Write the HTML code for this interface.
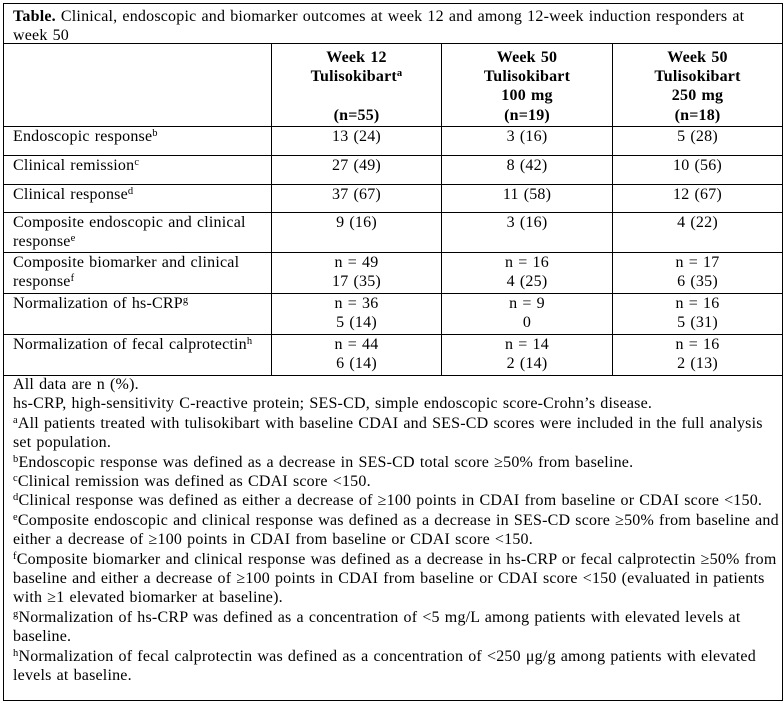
<!DOCTYPE html>
<html>
<head>
<meta charset="utf-8">
<style>
  html, body { margin:0; padding:0; background:#fff; }
  body { width:784px; height:703px; position:relative; overflow:hidden; }
  .h { position:absolute; height:1px; background:#000; }
  .v { position:absolute; width:1px; background:#000; }
  .t { position:absolute; white-space:nowrap; font-family:"Liberation Serif", "Times New Roman", serif; font-size:16px; line-height:19.4px; color:#000; letter-spacing:0.2px; word-spacing:0.85px; }
  .c { text-align:center; }
  .b { font-weight:bold; }
  .s { font-size:10.5px; position:relative; top:-5px; line-height:0; vertical-align:baseline; }
</style>
</head>
<body>
<!-- outer border -->
<div class="h" style="left:3px;top:3px;width:780px;"></div>
<div class="h" style="left:3px;top:700px;width:780px;"></div>
<div class="v" style="left:3px;top:3px;height:698px;"></div>
<div class="v" style="left:782px;top:3px;height:698px;"></div>
<!-- horizontal rules -->
<div class="h" style="left:3px;top:43px;width:780px;"></div>
<div class="h" style="left:3px;top:126px;width:780px;"></div>
<div class="h" style="left:3px;top:155px;width:780px;"></div>
<div class="h" style="left:3px;top:184px;width:780px;"></div>
<div class="h" style="left:3px;top:212px;width:780px;"></div>
<div class="h" style="left:3px;top:252px;width:780px;"></div>
<div class="h" style="left:3px;top:293px;width:780px;"></div>
<div class="h" style="left:3px;top:334px;width:780px;"></div>
<div class="h" style="left:3px;top:375px;width:780px;"></div>
<!-- vertical rules -->
<div class="v" style="left:271px;top:43px;height:333px;"></div>
<div class="v" style="left:441px;top:43px;height:333px;"></div>
<div class="v" style="left:612px;top:43px;height:333px;"></div>

<!-- title -->
<div class="t" style="left:13px;top:7px;line-height:19px;"><span class="b">Table.</span> Clinical, endoscopic and biomarker outcomes at week 12 and among 12-week induction responders at<br>week 50</div>

<!-- header -->
<div class="t c b" style="left:272px;width:169px;top:48px;line-height:19.2px;">Week 12<br>Tulisokibart<span class="s">a</span><br>&nbsp;<br>(n=55)</div>
<div class="t c b" style="left:442px;width:170px;top:48px;line-height:19.2px;">Week 50<br>Tulisokibart<br>100 mg<br>(n=19)</div>
<div class="t c b" style="left:613px;width:169px;top:48px;line-height:19.2px;">Week 50<br>Tulisokibart<br>250 mg<br>(n=18)</div>

<!-- row labels -->
<div class="t" style="left:13px;top:127px;">Endoscopic response<span class="s">b</span></div>
<div class="t" style="left:13px;top:156px;">Clinical remission<span class="s">c</span></div>
<div class="t" style="left:13px;top:185px;">Clinical response<span class="s">d</span></div>
<div class="t" style="left:13px;top:213px;line-height:19px;">Composite endoscopic and clinical<br>response<span class="s">e</span></div>
<div class="t" style="left:13px;top:253px;line-height:19px;">Composite biomarker and clinical<br>response<span class="s">f</span></div>
<div class="t" style="left:13px;top:294px;">Normalization of hs-CRP<span class="s">g</span></div>
<div class="t" style="left:13px;top:335px;">Normalization of fecal calprotectin<span class="s">h</span></div>

<!-- col 2 -->
<div class="t c" style="left:272px;width:169px;top:127px;">13 (24)</div>
<div class="t c" style="left:272px;width:169px;top:156px;">27 (49)</div>
<div class="t c" style="left:272px;width:169px;top:185px;">37 (67)</div>
<div class="t c" style="left:272px;width:169px;top:213px;">9 (16)</div>
<div class="t c" style="left:272px;width:169px;top:253px;line-height:19px;">n = 49<br>17 (35)</div>
<div class="t c" style="left:272px;width:169px;top:294px;line-height:19px;">n = 36<br>5 (14)</div>
<div class="t c" style="left:272px;width:169px;top:335px;line-height:19px;">n = 44<br>6 (14)</div>

<!-- col 3 -->
<div class="t c" style="left:442px;width:170px;top:127px;">3 (16)</div>
<div class="t c" style="left:442px;width:170px;top:156px;">8 (42)</div>
<div class="t c" style="left:442px;width:170px;top:185px;">11 (58)</div>
<div class="t c" style="left:442px;width:170px;top:213px;">3 (16)</div>
<div class="t c" style="left:442px;width:170px;top:253px;line-height:19px;">n = 16<br>4 (25)</div>
<div class="t c" style="left:442px;width:170px;top:294px;line-height:19px;">n = 9<br>0</div>
<div class="t c" style="left:442px;width:170px;top:335px;line-height:19px;">n = 14<br>2 (14)</div>

<!-- col 4 -->
<div class="t c" style="left:613px;width:169px;top:127px;">5 (28)</div>
<div class="t c" style="left:613px;width:169px;top:156px;">10 (56)</div>
<div class="t c" style="left:613px;width:169px;top:185px;">12 (67)</div>
<div class="t c" style="left:613px;width:169px;top:213px;">4 (22)</div>
<div class="t c" style="left:613px;width:169px;top:253px;line-height:19px;">n = 17<br>6 (35)</div>
<div class="t c" style="left:613px;width:169px;top:294px;line-height:19px;">n = 16<br>5 (31)</div>
<div class="t c" style="left:613px;width:169px;top:335px;line-height:19px;">n = 16<br>2 (13)</div>

<!-- footnotes -->
<div class="t" style="left:13px;top:375px;">All data are n (%).<br>
hs-CRP, high-sensitivity C-reactive protein; SES-CD, simple endoscopic score-Crohn’s disease.<br>
<span class="s">a</span>All patients treated with tulisokibart with baseline CDAI and SES-CD scores were included in the full analysis<br>
set population.<br>
<span class="s">b</span>Endoscopic response was defined as a decrease in SES-CD total score ≥50% from baseline.<br>
<span class="s">c</span>Clinical remission was defined as CDAI score &lt;150.<br>
<span class="s">d</span>Clinical response was defined as either a decrease of ≥100 points in CDAI from baseline or CDAI score &lt;150.<br>
<span class="s">e</span>Composite endoscopic and clinical response was defined as a decrease in SES-CD score ≥50% from baseline and<br>
either a decrease of ≥100 points in CDAI from baseline or CDAI score &lt;150.<br>
<span class="s">f</span>Composite biomarker and clinical response was defined as a decrease in hs-CRP or fecal calprotectin ≥50% from<br>
baseline and either a decrease of ≥100 points in CDAI from baseline or CDAI score &lt;150 (evaluated in patients<br>
with ≥1 elevated biomarker at baseline).<br>
<span class="s">g</span>Normalization of hs-CRP was defined as a concentration of &lt;5 mg/L among patients with elevated levels at<br>
baseline.<br>
<span class="s">h</span>Normalization of fecal calprotectin was defined as a concentration of &lt;250 μg/g among patients with elevated<br>
levels at baseline.</div>
</body>
</html>
